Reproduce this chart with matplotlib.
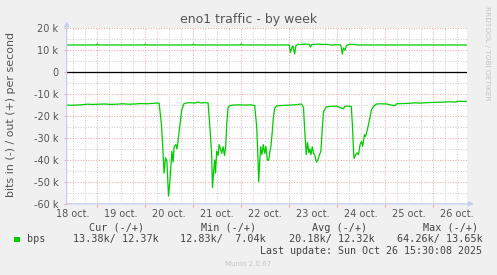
import matplotlib
matplotlib.use('Agg')
import matplotlib.pyplot as plt
from matplotlib.ticker import FixedLocator, FuncFormatter
from matplotlib.patches import Rectangle
import numpy as np

# ---- data (hours since 18 oct 00:00, values in kbit/s) ----
in_hours = [9.2, 10.5, 13, 16, 19, 22, 25, 28, 31, 34, 37, 40, 43, 46, 49, 52, 54, 55.2,
            56.4, 57.1, 57.7, 58.4, 59.1, 59.9, 60.6, 61.6, 62.2, 62.7, 63.6, 64.1, 64.6, 65.6, 66.6, 67.6,
            69, 71, 73, 74.6, 76, 78, 79.7,
            80.5, 81.4, 81.9, 82.5, 83.0, 83.4, 84.0, 84.7, 85.2, 85.9, 86.5, 87.2, 87.9, 88.5, 89.0, 89.7, 90.5,
            92, 95, 98, 101, 103.0,
            104.0, 104.5, 105.0, 105.5, 106.0, 106.6, 107.3, 108.0, 108.6, 109.3, 110.0, 110.6, 111.1, 111.8, 112.3, 113.0,
            114, 116, 118, 120.5, 123, 126.4, 127.4,
            127.9, 128.8, 129.4, 130.1, 130.6, 131.1, 131.8, 132.4, 133.1, 133.9, 134.6, 135.4, 136.1, 136.8, 137.4, 138.8,
            141, 144, 147.4, 148, 150, 151.3,
            151.9, 152.4, 152.7, 153.4, 154.2, 154.9, 155.7, 156.4, 157.0, 157.9, 158.4, 159.4, 160.4, 161.4, 162.4, 163.9,
            166, 169, 172.9, 174, 177, 180, 183, 186, 189, 192, 195, 198, 201, 203.6, 204.0, 208.8]
in_kbps = [14.9, 15.1, 15.0, 14.9, 14.6, 14.7, 14.6, 14.5, 14.7, 14.6, 14.4, 14.6, 14.5, 14.3, 14.4, 14.2, 14.1, 14.1,
           24, 36, 46, 39, 40.6, 56.5, 49.7, 36, 41, 34, 33, 35, 32, 24, 17, 14.4,
           14.0, 13.9, 14.1, 13.6, 14.0, 13.9, 14.0,
           24, 36, 52.6, 45, 40, 46, 36, 38, 33, 35, 37, 34, 38, 34, 24, 16, 15.3,
           15.0, 14.9, 15.0, 14.9, 15.2,
           25, 36, 50, 40.6, 34, 37.6, 33, 37, 33.8, 40, 40.3, 36, 34, 27, 21, 16.4,
           15.4, 15.2, 15.1, 15.0, 14.9, 14.5, 16,
           25, 37.6, 32, 36.7, 35, 37.6, 34, 37, 38, 41, 40, 37.6, 36, 25.5, 18, 15.8,
           15.6, 15.5, 16.7, 15.6, 15.5, 15.6,
           25, 36, 39.4, 37.6, 36.8, 37.6, 33, 31.5, 33.8, 28.5, 29.3, 26, 21.7, 17, 15.6, 14.5,
           14.4, 14.5, 15.3, 14.4, 14.3, 14.2, 14.0, 14.1, 13.9, 13.8, 13.7, 13.6, 13.5, 13.6, 13.3, 13.3]

out_hours = [9.2, 24, 24.3, 24.8, 48, 48.3, 48.8, 72, 72.3, 72.8, 96, 96.3, 96.8,
             120.3, 120.8, 121.5, 122.1, 122.97, 123.6, 124.5, 126, 128, 130.3, 130.9, 131.5, 133, 135, 137, 139,
             140.4, 142, 144, 146, 146.8, 147.4, 148.1, 148.9, 150.4, 153.4, 154, 208.8]
out_kbps = [12.4, 12.4, 12.9, 12.4, 12.4, 12.8, 12.4, 12.4, 12.8, 12.4, 12.4, 12.9, 12.4,
            12.4, 9.0, 11.0, 12.0, 8.3, 12.0, 12.7, 12.6, 12.8, 12.7, 11.4, 12.6, 12.7, 12.8, 12.6, 12.7,
            12.5, 12.4, 12.5, 12.4, 8.3, 11.0, 10.0, 12.2, 12.7, 12.6, 12.4, 12.4]

day_labels = ["18 oct.", "19 oct.", "20 oct.", "21 oct.", "22 oct.", "23 oct.", "24 oct.", "25 oct.", "26 oct."]
ytick_values = [-60000, -50000, -40000, -30000, -20000, -10000, 0, 10000, 20000]
ytick_labels = ["-60 k", "-50 k", "-40 k", "-30 k", "-20 k", "-10 k", "0", "10 k", "20 k"]
legend_name = "bps"
legend_headers = ["Cur (-/+)", "Min (-/+)", "Avg (-/+)", "Max (-/+)"]
legend_values = ["13.38k/ 12.37k", "12.83k/  7.04k", "20.18k/ 12.32k", "64.26k/ 13.65k"]
last_update = "Last update: Sun Oct 26 15:30:08 2025"

# ---- figure ----
W, H = 497, 275
fig = plt.figure(figsize=(W / 100, H / 100), dpi=100, facecolor='#F0F0F0')
ax = fig.add_axes([66.7 / W, 1 - 203.8 / H, 400 / W, 175.5 / H])
ax.set_facecolor('white')

green = '#00CC00'
ax.plot(out_hours, np.array(out_kbps) * 1000, color=green, lw=0.9, zorder=3)
ax.plot(in_hours, -np.array(in_kbps) * 1000, color=green, lw=0.9, zorder=3)
ax.axhline(0, color='black', lw=0.9, zorder=2)

ax.set_xlim(9.0, 209.0)
ax.set_ylim(-60000, 20000)

# grids
major_x = [24 * d for d in range(1, 9)]
minor_x = [6 * k for k in range(2, 35) if (6 * k) % 24 != 0]
ax.xaxis.set_major_locator(FixedLocator(major_x))
ax.xaxis.set_minor_locator(FixedLocator(minor_x))
ax.xaxis.set_major_formatter(FuncFormatter(lambda v, p: ''))
ax.xaxis.set_minor_formatter(FuncFormatter(
    lambda v, p: day_labels[int(round(v)) // 24] if int(round(v)) % 24 == 12 else ''))
ax.set_yticks(ytick_values)
ax.set_yticklabels(ytick_labels)
ax.set_yticks([v + 5000 for v in ytick_values[:-1]], minor=True)

dot = (0, (1, 1.5))
ax.grid(which='major', color='#F0A8A8', linestyle=dot, lw=0.75, zorder=1)
ax.grid(which='minor', color='#CFCFCF', linestyle=dot, lw=0.75, zorder=1)
ax.set_axisbelow(True)

ax.tick_params(axis='both', which='both', labelsize=7, labelcolor='#555555')
ax.tick_params(axis='x', which='major', length=2, color='#F0A8A8', pad=3)
ax.tick_params(axis='x', which='minor', length=0, pad=3.5)
ax.tick_params(axis='y', which='major', length=2, color='#F0A8A8', pad=4)
ax.tick_params(axis='y', which='minor', length=0)

for s in ax.spines.values():
    s.set_visible(False)
axis_col = '#C8CCF4'
ax.annotate('', xy=(0, 1 + 7 / 175.5), xytext=(0, -0.002), xycoords='axes fraction',
            arrowprops=dict(arrowstyle='-|>', color=axis_col, lw=0.9, mutation_scale=7,
                            shrinkA=0, shrinkB=0), annotation_clip=False)
ax.annotate('', xy=(1 + 7 / 400, 0), xytext=(-0.002, 0), xycoords='axes fraction',
            arrowprops=dict(arrowstyle='-|>', color=axis_col, lw=0.9, mutation_scale=7,
                            shrinkA=0, shrinkB=0), annotation_clip=False)

def px(x, y):
    return x / W, 1 - y / H

# texts
fig.text(*px(248.5, 20), "eno1 traffic - by week", ha='center', va='center', fontsize=9, color='#555555')
fig.text(*px(11, 114.5), "bits in (-) / out (+) per second", rotation=90, ha='center', va='center',
         fontsize=7.9, color='#555555')
fig.text(*px(487.5, 53), "RRDTOOL / TOBI OETIKER", rotation=270, ha='center', va='center',
         fontsize=5.3, color='#C4C4C4')

mono = 'DejaVu Sans Mono'
header_x = [89, 201, 312, 422.7]
value_x = [72.7, 180, 289, 396.7]
for hx, t in zip(header_x, legend_headers):
    fig.text(*px(hx, 227.7), t, ha='left', va='center', family=mono, fontsize=7.3, color='#444444')
for vx, t in zip(value_x, legend_values):
    fig.text(*px(vx, 239.3), t, ha='left', va='center', family=mono, fontsize=7.3, color='#444444')
fig.text(*px(26.7, 239.3), legend_name, ha='left', va='center', family=mono, fontsize=7.3, color='#444444')
fig.patches.append(Rectangle(px(14, 242), 6 / W, 5.5 / H, transform=fig.transFigure,
                             facecolor=green, edgecolor='none'))
fig.text(*px(482, 251), last_update, ha='right', va='center', family=mono, fontsize=7.2, color='#444444')
fig.text(*px(248, 264), "Munin 2.0.67", ha='center', va='center', fontsize=5, color='#C4C4C4')

fig.savefig('out.png', dpi=100, facecolor=fig.get_facecolor())
